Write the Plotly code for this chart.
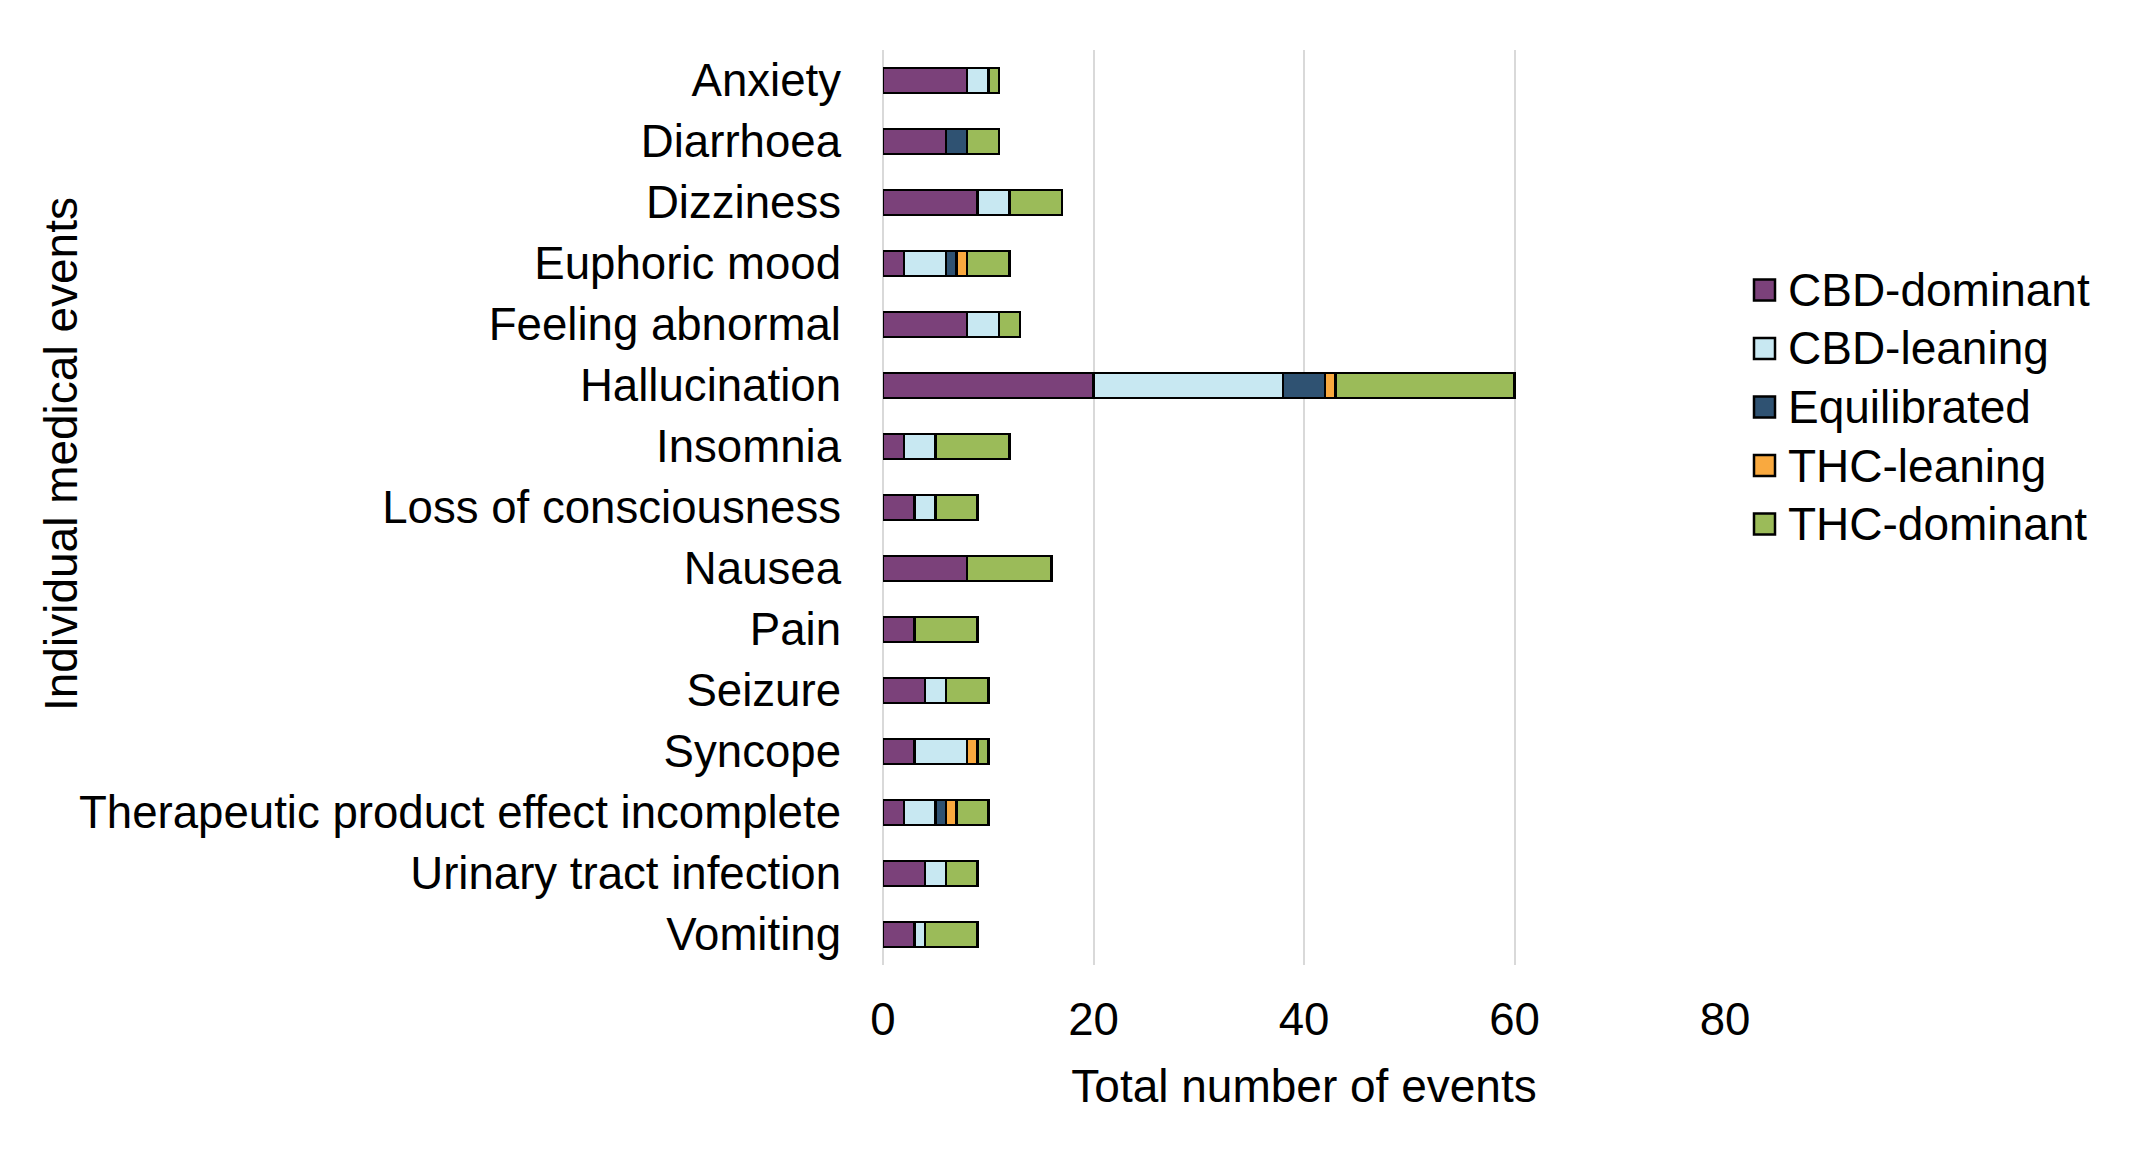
import plotly.graph_objects as go

categories = ["Anxiety", "Diarrhoea", "Dizziness", "Euphoric mood", "Feeling abnormal",
              "Hallucination", "Insomnia", "Loss of consciousness", "Nausea", "Pain",
              "Seizure", "Syncope", "Therapeutic product effect incomplete",
              "Urinary tract infection", "Vomiting"]

cbd_dominant = [8, 6, 9, 2, 8, 20, 2, 3, 8, 3, 4, 3, 2, 4, 3]
cbd_leaning  = [2, 0, 3, 4, 3, 18, 3, 2, 0, 0, 2, 5, 3, 2, 1]
equilibrated = [0, 2, 0, 1, 0, 4, 0, 0, 0, 0, 0, 0, 1, 0, 0]
thc_leaning  = [0, 0, 0, 1, 0, 1, 0, 0, 0, 0, 0, 1, 1, 0, 0]
thc_dominant = [1, 3, 5, 4, 2, 17, 7, 4, 8, 6, 4, 1, 3, 3, 5]

series_names = ["CBD-dominant", "CBD-leaning", "Equilibrated", "THC-leaning", "THC-dominant"]
series_values = [cbd_dominant, cbd_leaning, equilibrated, thc_leaning, thc_dominant]
series_colors = ["#7B417A", "#C8E8F2", "#2F5272", "#F9A93F", "#9BBB59"]

x_ticks = [0, 20, 40, 60, 80]

FONT = "Liberation Sans, Arial, sans-serif"
FS = 46
FS_TICK = 45.6

W, H = 2144, 1169
ML, MR, MT, MB = 875, 427, 42, 212
PW, PH = W - ML - MR, H - MT - MB


def px_x(p):
    return (p - ML) / PW


def px_y(p):
    return 1 - (p - MT) / PH


fig = go.Figure()
for name, vals, color in zip(series_names, series_values, series_colors):
    fig.add_trace(go.Bar(
        y=categories, x=vals, orientation="h", name=name,
        marker=dict(color=color, line=dict(color="black", width=2.5)),
        showlegend=False,
    ))

# manual legend (square swatches + labels)
leg_x0, sw = 1746, 21
leg_y0, leg_dy = 282, 58.5
for i, (name, color) in enumerate(zip(series_names, series_colors)):
    cy = leg_y0 + i * leg_dy
    fig.add_shape(type="rect", xref="paper", yref="paper",
                  x0=px_x(leg_x0), x1=px_x(leg_x0 + sw),
                  y0=px_y(cy + sw / 2), y1=px_y(cy - sw / 2),
                  fillcolor=color, line=dict(color="black", width=2.5))
    fig.add_annotation(xref="paper", yref="paper", x=px_x(leg_x0 + sw + 11), y=px_y(cy),
                       xanchor="left", yanchor="middle", text=name, showarrow=False,
                       font=dict(size=FS, family=FONT, color="black"))

# y-axis title
fig.add_annotation(xref="paper", yref="paper", x=px_x(53), y=px_y(446),
                   xanchor="center", yanchor="middle", textangle=-90,
                   text="Individual medical events", showarrow=False,
                   font=dict(size=FS, family=FONT, color="black"))

fig.update_layout(
    width=W, height=H,
    barmode="stack", bargap=0.59,
    plot_bgcolor="white", paper_bgcolor="white",
    margin=dict(l=ML, r=MR, t=MT, b=MB, autoexpand=False),
    font=dict(family=FONT, size=FS, color="black"),
    showlegend=False,
    xaxis=dict(range=[0, 80], tickvals=x_ticks, showgrid=True, gridcolor="#D9D9D9",
               gridwidth=2, zeroline=True, zerolinecolor="#D9D9D9", zerolinewidth=2,
               showline=False, ticks="", ticklabelstandoff=23,
               tickfont=dict(size=FS_TICK),
               title=dict(text="Total number of events", standoff=26,
                          font=dict(size=FS))),
    yaxis=dict(autorange="reversed", showgrid=False, showline=False, ticks="",
               tickfont=dict(size=FS_TICK), ticklabelstandoff=41),
)

fig.write_html("out.html")
